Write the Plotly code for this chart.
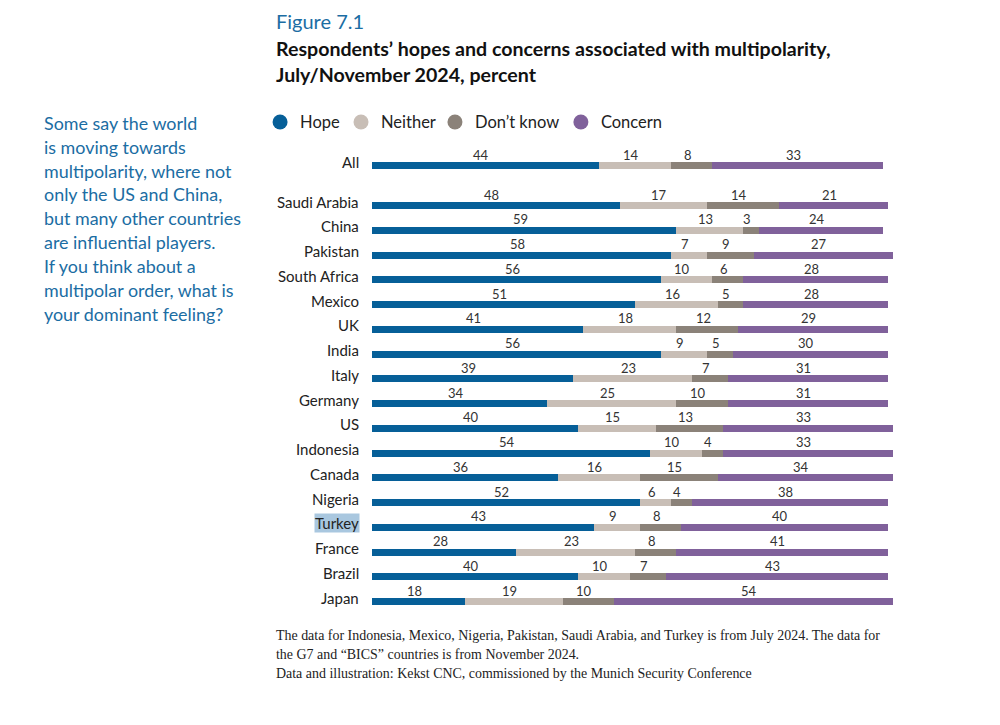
import plotly.graph_objects as go

countries = ["All", "Saudi Arabia", "China", "Pakistan", "South Africa", "Mexico", "UK",
             "India", "Italy", "Germany", "US", "Indonesia", "Canada", "Nigeria", "Turkey",
             "France", "Brazil", "Japan"]
hope = [44, 48, 59, 58, 56, 51, 41, 56, 39, 34, 40, 54, 36, 52, 43, 28, 40, 18]
neither = [14, 17, 13, 7, 10, 16, 18, 9, 23, 25, 15, 10, 16, 6, 9, 23, 10, 19]
dont_know = [8, 14, 3, 9, 6, 5, 12, 5, 7, 10, 13, 4, 15, 4, 8, 8, 7, 10]
concern = [33, 21, 24, 27, 28, 28, 29, 30, 31, 31, 33, 33, 34, 38, 40, 41, 43, 54]

series_names = ["Hope", "Neither", "Don\u2019t know", "Concern"]
series_values = [hope, neither, dont_know, concern]
colors = ["#065f98", "#c8beb6", "#8b8279", "#80619b"]

title_lines = ["Respondents\u2019 hopes and concerns associated with multipolarity,",
               "July/November 2024, percent"]
side_lines = ["Some say the world", "is moving towards", "multipolarity, where not",
              "only the US and China,", "but many other countries", "are influential players.",
              "If you think about a", "multipolar order, what is", "your dominant feeling?"]
footer_lines = ["The data for Indonesia, Mexico, Nigeria, Pakistan, Saudi Arabia, and Turkey is from July 2024. The data for",
                "the G7 and \u201cBICS\u201d countries is from November 2024.",
                "Data and illustration: Kekst CNC, commissioned by the Munich Security Conference"]

# row positions: "All" separated from the countries by a larger gap
GAP = 1.615
ypos = [0] + [GAP + i for i in range(len(countries) - 1)]

FONT = "Lato"
OFF = 8  # page body margin
PW, PH = 526.3, 485.3
L, T = 372 - OFF, 140.7 - OFF

def px_x(px):
    return (px - 372) / PW

def px_y(py):
    return (626 - py) / PH

# legend entry text start positions (pixels)
legend_text_px = [297, 378, 472, 598]
legend_ids = ["legend", "legend2", "legend3", "legend4"]

fig = go.Figure()
annotations = []
for name, vals, col, lid in zip(series_names, series_values, colors, legend_ids):
    fig.add_trace(go.Bar(
        x=vals, y=ypos, orientation="h", marker=dict(color=col, line=dict(width=0)),
        width=0.28, showlegend=False, hoverinfo="skip", name=name))
    fig.add_trace(go.Scatter(
        x=[None], y=[None], mode="markers", name=name, legend=lid,
        marker=dict(color=col, size=15, symbol="circle")))

# segment value labels above each segment
for i in range(len(countries)):
    base = 0
    for vals in series_values:
        v = vals[i]
        annotations.append(dict(
            x=base + v / 2 - 0.8, y=ypos[i], xref="x", yref="y", text=str(v),
            showarrow=False, yshift=11, font=dict(family=FONT, size=13, color="#333333")))
        base += v

# country labels
for i, c in enumerate(countries):
    annotations.append(dict(
        x=0, y=ypos[i], xref="paper", yref="y", text=c, showarrow=False,
        xanchor="right", xshift=-12, yshift=4,
        font=dict(family=FONT, size=15, color="#222222"),
        bgcolor="#a9c7df" if c == "Turkey" else None, borderpad=0))

annotations.append(dict(x=px_x(274), y=px_y(21), xref="paper", yref="paper", text="Figure 7.1",
                        showarrow=False, xanchor="left", yanchor="middle",
                        font=dict(family=FONT, size=20, color="#1b6da3")))
for k, line in enumerate(title_lines):
    annotations.append(dict(x=px_x(274), y=px_y(48 + 26 * k), xref="paper", yref="paper",
                            text="<b>" + line + "</b>", showarrow=False, xanchor="left",
                            yanchor="middle", font=dict(family=FONT, size=19.6, color="#111111")))
for k, line in enumerate(side_lines):
    annotations.append(dict(x=px_x(42), y=px_y(122.5 + 23.9 * k), xref="paper", yref="paper",
                            text=line, showarrow=False, xanchor="left", yanchor="middle",
                            font=dict(family=FONT, size=17.9, color="#1b6da3")))
for k, line in enumerate(footer_lines):
    annotations.append(dict(x=px_x(274), y=px_y(636 + 19 * k), xref="paper", yref="paper",
                            text=line, showarrow=False, xanchor="left", yanchor="middle",
                            font=dict(family="Liberation Serif", size=13.95, color="#222222")))

legend_common = dict(orientation="h", xanchor="left", y=px_y(122), yanchor="middle",
                     font=dict(family=FONT, size=16.5, color="#222222"),
                     itemwidth=30, bgcolor="rgba(0,0,0,0)")
legends = {}
for lid, tx in zip(legend_ids, legend_text_px):
    legends[lid] = dict(x=px_x(tx - 37), **legend_common)

fig.update_layout(
    width=1000, height=725,
    margin=dict(l=L, r=1000 - L - PW, t=T, b=725 - T - PH),
    paper_bgcolor="white", plot_bgcolor="white",
    barmode="stack", bargap=0,
    font=dict(family=FONT),
    xaxis=dict(range=[0, 102], visible=False, fixedrange=True),
    yaxis=dict(range=[18.6, -1], visible=False, fixedrange=True),
    annotations=annotations,
    **legends,
)

fig.write_html("out.html")
